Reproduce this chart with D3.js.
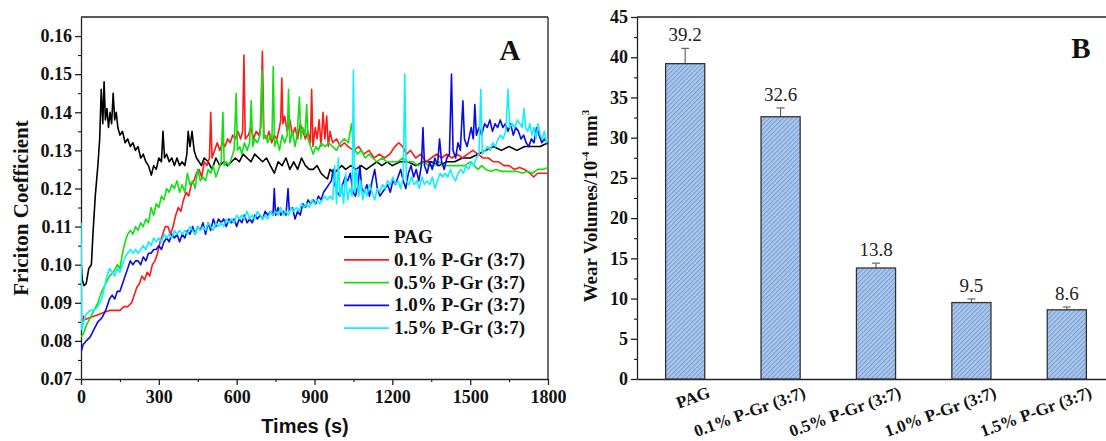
<!DOCTYPE html>
<html><head><meta charset="utf-8">
<script src="https://cdn.jsdelivr.net/npm/d3@7"></script>
<style>body{margin:0;background:#fff}svg{display:block}</style>
</head><body><svg id="c" width="1106" height="441"></svg>
<script>
// ---------- Data: panel A (time s, friction coefficient) ----------
const seriesNames = ["PAG","0.1% P-Gr (3:7)","0.5% P-Gr (3:7)","1.0% P-Gr (3:7)","1.5% P-Gr (3:7)"];
const seriesColors = ["#000000","#ff1a1a","#12e012","#0a0ae6","#11eeff"];
const pagData = [[0,0.101],[5,0.096],[12,0.0945],[20,0.095],[30,0.099],[40,0.100],[46,0.108],[55,0.118],[65,0.126],[72,0.133],[78,0.146],[84,0.137],[89,0.148],[94,0.138],[100,0.141],[106,0.136],[112,0.140],[118,0.137],[124,0.145],[130,0.138],[136,0.140],[142,0.136],[150,0.134],[160,0.135],[170,0.132],[180,0.133],[190,0.131],[200,0.132],[210,0.130],[220,0.131],[230,0.128],[240,0.129],[250,0.127],[260,0.126],[271,0.1235],[280,0.126],[290,0.125],[300,0.128],[310,0.127],[316,0.135],[322,0.128],[330,0.129],[340,0.127],[350,0.128],[360,0.126],[370,0.128],[380,0.126],[390,0.127],[400,0.126],[408,0.129],[413,0.135],[420,0.131],[428,0.135],[436,0.130],[445,0.128],[455,0.127],[464,0.126],[475,0.128],[490,0.127],[505,0.125],[520,0.128],[535,0.126],[550,0.127],[565,0.126],[580,0.127],[595,0.128],[610,0.127],[625,0.129],[640,0.128],[655,0.127],[670,0.129],[685,0.128],[700,0.127],[715,0.128],[730,0.126],[745,0.124],[760,0.127],[775,0.126],[790,0.128],[805,0.125],[820,0.127],[835,0.125],[850,0.128],[865,0.126],[880,0.125],[895,0.125],[910,0.126],[925,0.124],[940,0.123],[950,0.1225],[960,0.125],[975,0.124],[990,0.125],[1005,0.126],[1020,0.125],[1040,0.126],[1060,0.125],[1080,0.126],[1100,0.125],[1120,0.126],[1140,0.127],[1160,0.126],[1180,0.127],[1200,0.126],[1230,0.127],[1260,0.127],[1290,0.126],[1320,0.127],[1350,0.127],[1380,0.126],[1410,0.127],[1440,0.127],[1470,0.128],[1500,0.128],[1530,0.129],[1560,0.130],[1590,0.131],[1620,0.130],[1650,0.131],[1680,0.130],[1710,0.131],[1740,0.131],[1770,0.131],[1800,0.132]];
const pg01Data = [[0,0.085],[8,0.0855],[10,0.0865],[12,0.0855],[30,0.086],[50,0.0865],[70,0.087],[90,0.0875],[110,0.088],[130,0.088],[150,0.088],[165,0.089],[180,0.089],[195,0.090],[205,0.092],[215,0.094],[225,0.095],[235,0.097],[245,0.096],[255,0.098],[265,0.097],[275,0.100],[285,0.101],[295,0.103],[305,0.106],[315,0.108],[325,0.110],[335,0.110],[345,0.108],[355,0.110],[365,0.113],[375,0.115],[385,0.114],[395,0.117],[405,0.119],[415,0.118],[425,0.121],[435,0.122],[445,0.124],[455,0.125],[465,0.123],[475,0.127],[485,0.126],[495,0.128],[500,0.140],[505,0.128],[515,0.130],[525,0.132],[535,0.130],[545,0.132],[555,0.131],[565,0.133],[575,0.132],[585,0.134],[595,0.133],[605,0.135],[615,0.133],[623,0.135],[628,0.155],[633,0.133],[645,0.134],[655,0.136],[665,0.133],[675,0.135],[685,0.134],[693,0.136],[699,0.156],[705,0.134],[715,0.133],[725,0.135],[735,0.132],[745,0.134],[755,0.133],[765,0.136],[770,0.138],[774,0.149],[778,0.137],[785,0.139],[795,0.135],[805,0.138],[815,0.134],[825,0.136],[835,0.133],[845,0.137],[855,0.135],[865,0.133],[875,0.135],[884,0.132],[889,0.146],[894,0.131],[903,0.136],[910,0.133],[918,0.138],[925,0.131],[933,0.140],[940,0.133],[947,0.139],[953,0.131],[960,0.135],[970,0.132],[985,0.133],[1000,0.131],[1015,0.132],[1030,0.131],[1050,0.130],[1070,0.131],[1090,0.129],[1110,0.130],[1130,0.128],[1150,0.129],[1170,0.128],[1190,0.129],[1210,0.131],[1225,0.132],[1240,0.131],[1255,0.129],[1270,0.130],[1290,0.128],[1310,0.129],[1330,0.127],[1350,0.128],[1370,0.129],[1390,0.128],[1410,0.129],[1430,0.128],[1450,0.129],[1470,0.128],[1490,0.129],[1510,0.130],[1530,0.129],[1550,0.128],[1570,0.128],[1590,0.127],[1610,0.127],[1630,0.126],[1650,0.126],[1670,0.125],[1690,0.1255],[1710,0.125],[1730,0.124],[1745,0.123],[1760,0.124],[1780,0.124],[1800,0.124]];
const pg05Data = [[0,0.081],[10,0.082],[20,0.084],[35,0.086],[50,0.088],[65,0.090],[80,0.093],[95,0.095],[110,0.097],[125,0.098],[140,0.100],[150,0.099],[160,0.103],[170,0.106],[180,0.108],[190,0.109],[200,0.108],[210,0.110],[220,0.109],[230,0.111],[240,0.110],[250,0.112],[260,0.111],[270,0.115],[280,0.113],[290,0.116],[300,0.115],[310,0.118],[320,0.117],[330,0.120],[340,0.119],[350,0.121],[360,0.120],[370,0.122],[380,0.119],[390,0.121],[400,0.119],[410,0.124],[420,0.121],[430,0.122],[440,0.120],[450,0.125],[460,0.122],[470,0.123],[480,0.122],[490,0.125],[500,0.124],[510,0.126],[520,0.123],[530,0.125],[540,0.127],[547,0.140],[552,0.126],[560,0.127],[570,0.126],[580,0.128],[590,0.130],[598,0.145],[603,0.130],[612,0.131],[620,0.129],[630,0.132],[640,0.130],[650,0.132],[656,0.143],[662,0.131],[670,0.133],[680,0.132],[690,0.134],[698,0.151],[704,0.133],[712,0.134],[720,0.132],[730,0.134],[736,0.133],[741,0.152],[746,0.131],[755,0.133],[765,0.130],[775,0.134],[785,0.132],[795,0.134],[800,0.146],[805,0.132],[815,0.135],[825,0.131],[833,0.134],[842,0.144],[847,0.133],[855,0.136],[863,0.134],[870,0.142],[875,0.133],[885,0.131],[895,0.129],[905,0.131],[915,0.130],[925,0.132],[940,0.131],[955,0.132],[970,0.131],[985,0.130],[1000,0.132],[1015,0.133],[1030,0.132],[1043,0.137],[1050,0.131],[1065,0.129],[1080,0.130],[1095,0.128],[1110,0.129],[1125,0.128],[1140,0.127],[1160,0.128],[1180,0.127],[1200,0.127],[1220,0.127],[1240,0.128],[1260,0.127],[1280,0.127],[1300,0.126],[1320,0.127],[1340,0.126],[1360,0.126],[1380,0.127],[1400,0.126],[1420,0.126],[1440,0.126],[1460,0.126],[1480,0.126],[1500,0.127],[1515,0.126],[1530,0.125],[1545,0.126],[1560,0.125],[1580,0.1245],[1600,0.125],[1620,0.1245],[1640,0.1245],[1660,0.1245],[1680,0.1245],[1700,0.124],[1720,0.1245],[1740,0.124],[1760,0.125],[1780,0.125],[1800,0.1255]];
const pg10Data = [[0,0.077],[8,0.079],[20,0.080],[35,0.081],[50,0.083],[65,0.085],[80,0.086],[95,0.088],[110,0.091],[120,0.092],[130,0.091],[140,0.093],[150,0.093],[160,0.095],[170,0.097],[180,0.099],[190,0.101],[200,0.100],[210,0.101],[220,0.101],[230,0.100],[240,0.102],[250,0.101],[260,0.103],[270,0.103],[280,0.104],[290,0.104],[300,0.105],[310,0.104],[320,0.106],[330,0.107],[340,0.106],[350,0.108],[360,0.107],[370,0.108],[380,0.106],[390,0.108],[400,0.107],[410,0.109],[420,0.108],[430,0.110],[440,0.108],[450,0.110],[460,0.109],[470,0.111],[480,0.108],[490,0.111],[500,0.109],[510,0.112],[520,0.110],[530,0.112],[540,0.111],[550,0.112],[560,0.110],[570,0.112],[580,0.111],[590,0.112],[600,0.110],[610,0.112],[620,0.111],[630,0.113],[640,0.111],[650,0.112],[660,0.111],[670,0.113],[680,0.112],[690,0.113],[700,0.112],[710,0.114],[720,0.113],[730,0.114],[740,0.113],[745,0.120],[750,0.113],[760,0.115],[770,0.113],[780,0.114],[790,0.113],[798,0.120],[803,0.114],[815,0.115],[825,0.112],[835,0.114],[845,0.113],[855,0.116],[865,0.115],[875,0.117],[885,0.116],[895,0.117],[905,0.116],[915,0.118],[925,0.117],[935,0.119],[945,0.120],[955,0.121],[965,0.122],[972,0.125],[978,0.121],[988,0.119],[998,0.118],[1008,0.121],[1018,0.123],[1028,0.122],[1038,0.124],[1048,0.119],[1058,0.118],[1068,0.121],[1075,0.126],[1082,0.120],[1092,0.119],[1102,0.121],[1112,0.118],[1122,0.122],[1132,0.125],[1142,0.120],[1152,0.118],[1162,0.119],[1172,0.120],[1182,0.121],[1192,0.119],[1202,0.122],[1212,0.121],[1222,0.123],[1232,0.125],[1242,0.122],[1252,0.120],[1262,0.124],[1272,0.126],[1282,0.123],[1292,0.125],[1302,0.122],[1312,0.126],[1318,0.136],[1324,0.126],[1334,0.124],[1344,0.127],[1354,0.125],[1364,0.128],[1374,0.126],[1382,0.133],[1390,0.127],[1400,0.125],[1410,0.128],[1420,0.129],[1428,0.150],[1434,0.130],[1444,0.128],[1453,0.132],[1462,0.130],[1472,0.143],[1478,0.133],[1488,0.131],[1498,0.134],[1504,0.136],[1512,0.133],[1518,0.142],[1524,0.134],[1534,0.136],[1544,0.134],[1556,0.137],[1566,0.136],[1576,0.138],[1586,0.135],[1596,0.137],[1606,0.136],[1616,0.138],[1626,0.136],[1636,0.137],[1646,0.135],[1656,0.137],[1666,0.134],[1676,0.136],[1686,0.135],[1696,0.133],[1706,0.134],[1716,0.132],[1726,0.131],[1736,0.133],[1746,0.132],[1756,0.136],[1766,0.134],[1776,0.132],[1786,0.133],[1800,0.132]];
const pg15Data = [[0,0.111],[3,0.083],[10,0.085],[20,0.087],[35,0.088],[50,0.088],[65,0.089],[80,0.091],[90,0.094],[100,0.097],[110,0.099],[120,0.098],[130,0.097],[140,0.099],[150,0.098],[160,0.100],[170,0.102],[180,0.103],[190,0.104],[200,0.103],[210,0.104],[220,0.103],[230,0.104],[240,0.105],[250,0.104],[260,0.106],[270,0.105],[280,0.107],[290,0.106],[300,0.107],[310,0.106],[320,0.108],[330,0.107],[340,0.108],[350,0.107],[360,0.109],[370,0.108],[380,0.109],[390,0.108],[400,0.109],[410,0.108],[420,0.110],[430,0.109],[440,0.108],[450,0.110],[460,0.109],[470,0.110],[480,0.109],[490,0.111],[500,0.110],[510,0.109],[520,0.111],[530,0.110],[540,0.111],[550,0.110],[560,0.112],[570,0.111],[580,0.112],[590,0.111],[600,0.113],[610,0.112],[620,0.113],[630,0.112],[640,0.114],[650,0.112],[660,0.113],[670,0.112],[680,0.114],[690,0.113],[700,0.112],[710,0.113],[720,0.112],[730,0.114],[740,0.113],[750,0.114],[760,0.113],[770,0.115],[780,0.113],[790,0.114],[800,0.113],[810,0.115],[820,0.114],[830,0.115],[840,0.114],[850,0.116],[860,0.115],[870,0.116],[880,0.115],[890,0.117],[900,0.116],[910,0.117],[920,0.116],[930,0.117],[940,0.118],[950,0.117],[960,0.118],[970,0.117],[978,0.126],[985,0.116],[992,0.128],[998,0.118],[1005,0.121],[1012,0.116],[1020,0.124],[1028,0.117],[1036,0.120],[1045,0.118],[1050,0.151],[1055,0.119],[1062,0.125],[1070,0.118],[1078,0.122],[1086,0.117],[1094,0.120],[1102,0.118],[1112,0.121],[1122,0.119],[1132,0.117],[1142,0.120],[1152,0.119],[1162,0.121],[1172,0.120],[1182,0.122],[1192,0.121],[1202,0.123],[1212,0.121],[1222,0.122],[1232,0.120],[1242,0.123],[1248,0.150],[1254,0.122],[1264,0.121],[1274,0.123],[1284,0.121],[1294,0.122],[1304,0.120],[1314,0.123],[1324,0.121],[1334,0.122],[1344,0.121],[1354,0.123],[1364,0.120],[1374,0.122],[1384,0.124],[1394,0.123],[1404,0.124],[1414,0.123],[1424,0.125],[1434,0.123],[1444,0.122],[1454,0.124],[1464,0.125],[1474,0.124],[1484,0.126],[1494,0.125],[1504,0.127],[1514,0.126],[1524,0.128],[1534,0.129],[1541,0.146],[1547,0.129],[1557,0.130],[1567,0.131],[1577,0.130],[1587,0.132],[1597,0.131],[1607,0.133],[1617,0.134],[1627,0.133],[1637,0.135],[1646,0.146],[1652,0.136],[1662,0.137],[1672,0.136],[1682,0.138],[1692,0.137],[1700,0.136],[1708,0.141],[1714,0.136],[1722,0.135],[1730,0.137],[1738,0.134],[1746,0.136],[1754,0.133],[1762,0.137],[1770,0.134],[1778,0.133],[1786,0.135],[1794,0.132],[1800,0.133]];
const timeTicks = [0,300,600,900,1200,1500,1800];
const frictionTicks = [0.07,0.08,0.09,0.10,0.11,0.12,0.13,0.14,0.15,0.16];

// ---------- Data: panel B (wear volumes) ----------
const barCategories = ["PAG","0.1% P-Gr (3:7)","0.5% P-Gr (3:7)","1.0% P-Gr (3:7)","1.5% P-Gr (3:7)"];
const wearValues = [39.2,32.6,13.8,9.5,8.6];
const wearErrors = [1.9,1.1,0.6,0.45,0.35];
const wearTicks = [0,5,10,15,20,25,30,35,40,45];

const svg = d3.select("#c");
const SERIF = "'Liberation Serif','Times New Roman',serif";
const SANS = "'Liberation Sans',Arial,sans-serif";

// ===== Panel A =====
const A = {l:81, r:548, t:17, b:379};
const xA = d3.scaleLinear().domain([0,1800]).range([A.l, A.r]);
const yA = d3.scaleLinear().domain([0.07,0.165]).range([A.b, A.t]);

const gA = svg.append("g");
const clip = svg.append("defs").append("clipPath").attr("id","clipA");
clip.append("rect").attr("x",A.l).attr("y",A.t).attr("width",A.r-A.l).attr("height",A.b-A.t);

// minor ticks
gA.append("g").attr("transform",`translate(0,${A.b})`)
  .call(d3.axisBottom(xA).tickValues(d3.range(150,1800,300)).tickSize(3).tickFormat("").tickSizeOuter(0))
  .call(g=>g.select(".domain").remove());
gA.append("g").attr("transform",`translate(${A.l},0)`)
  .call(d3.axisLeft(yA).tickValues(d3.range(0.075,0.165,0.01)).tickSize(3).tickFormat("").tickSizeOuter(0))
  .call(g=>g.select(".domain").remove());

const axB = gA.append("g").attr("transform",`translate(0,${A.b})`)
  .call(d3.axisBottom(xA).tickValues(timeTicks).tickFormat(d3.format("d")).tickSize(6).tickSizeOuter(0).tickPadding(5));
axB.selectAll("text").attr("font-family",SERIF).attr("font-weight","bold").attr("font-size",18).attr("fill","#111");
const axL = gA.append("g").attr("transform",`translate(${A.l},0)`)
  .call(d3.axisLeft(yA).tickValues(frictionTicks).tickFormat(d3.format(".2f")).tickSize(6).tickSizeOuter(0).tickPadding(3));
axL.selectAll("text").attr("font-family",SERIF).attr("font-weight","bold").attr("font-size",18).attr("fill","#111");
[axB,axL].forEach(a=>{a.selectAll("path,line").attr("stroke","#222").attr("stroke-width",1.3);});
// frame
gA.append("line").attr("x1",A.l).attr("x2",A.r).attr("y1",A.t).attr("y2",A.t).attr("stroke","#222").attr("stroke-width",1.3);
gA.append("line").attr("x1",A.r).attr("x2",A.r).attr("y1",A.t).attr("y2",A.b).attr("stroke","#222").attr("stroke-width",1.3);

const lineGen = d3.line().x(d=>xA(d[0])).y(d=>yA(d[1]));
const allSeries = [pagData,pg01Data,pg05Data,pg10Data,pg15Data];
const linesG = gA.append("g").attr("clip-path","url(#clipA)");
allSeries.forEach((s,i)=>{
  linesG.append("path").datum(s).attr("d",lineGen).attr("fill","none")
    .attr("stroke",seriesColors[i]).attr("stroke-width",1.6).attr("stroke-linejoin","round");
});

// legend
const leg = gA.append("g");
seriesNames.forEach((n,i)=>{
  const y = 237 + i*22.8;
  leg.append("line").attr("x1",344).attr("x2",389).attr("y1",y).attr("y2",y)
    .attr("stroke",seriesColors[i]).attr("stroke-width",1.8);
  leg.append("text").attr("x",394).attr("y",y+6).text(n)
    .attr("font-family",SERIF).attr("font-weight","bold").attr("font-size",19).attr("fill","#111");
});

gA.append("text").attr("x",510).attr("y",60).text("A").attr("text-anchor","middle")
  .attr("font-family",SERIF).attr("font-weight","bold").attr("font-size",29).attr("fill","#111");
gA.append("text").attr("transform",`translate(28,${(A.t+A.b)/2+10}) rotate(-90)`).attr("text-anchor","middle")
  .text("Friciton Coefficient").attr("font-family",SERIF).attr("font-weight","bold").attr("font-size",21).attr("fill","#111");
gA.append("text").attr("x",305).attr("y",433).attr("text-anchor","middle").text("Times (s)")
  .attr("font-family",SANS).attr("font-weight","bold").attr("font-size",20).attr("fill","#111");

// ===== Panel B =====
const B = {l:637, r:1115, t:17, b:379};
const xB = d3.scaleBand().domain(barCategories).range([B.l,B.r]).paddingInner(0.59).paddingOuter(0.3);
const yB = d3.scaleLinear().domain([0,45]).range([B.b,B.t]);
const gB = svg.append("g");

const defs = svg.select("defs");
const pat = defs.append("pattern").attr("id","hatch").attr("patternUnits","userSpaceOnUse")
  .attr("width",3.2).attr("height",3.2).attr("patternTransform","rotate(45)");
pat.append("rect").attr("width",3.2).attr("height",3.2).attr("fill","#a9c7ec");
pat.append("line").attr("x1",0.5).attr("x2",0.5).attr("y1",0).attr("y2",3.2).attr("stroke","#7597cf").attr("stroke-width",0.9);

gB.append("g").attr("transform",`translate(${B.l},0)`)
  .call(d3.axisLeft(yB).tickValues(d3.range(2.5,45,5)).tickSize(3).tickFormat("").tickSizeOuter(0))
  .call(g=>g.select(".domain").remove());
const bL = gB.append("g").attr("transform",`translate(${B.l},0)`)
  .call(d3.axisLeft(yB).tickValues(wearTicks).tickSize(6).tickSizeOuter(0).tickPadding(3));
bL.selectAll("text").attr("font-family",SERIF).attr("font-weight","bold").attr("font-size",18).attr("fill","#111");
const bB = gB.append("g").attr("transform",`translate(0,${B.b})`)
  .call(d3.axisBottom(xB).tickSize(0).tickSizeOuter(0).tickPadding(0));
bB.selectAll("text").attr("font-family",SERIF).attr("font-weight","bold").attr("font-size",17).attr("fill","#111")
  .attr("text-anchor","end").attr("dy",0).attr("transform","translate(26,18) rotate(-20)");
[bL,bB].forEach(a=>{a.selectAll("path,line").attr("stroke","#222").attr("stroke-width",1.3);});
gB.append("line").attr("x1",B.l).attr("x2",B.r).attr("y1",B.t).attr("y2",B.t).attr("stroke","#222").attr("stroke-width",1.3);

// error bars (upper)
barCategories.forEach((c,i)=>{
  const cx = xB(c)+xB.bandwidth()/2;
  const top = yB(wearValues[i]+wearErrors[i]);
  gB.append("line").attr("x1",cx).attr("x2",cx).attr("y1",yB(wearValues[i])).attr("y2",top).attr("stroke","#666").attr("stroke-width",1.2);
  gB.append("line").attr("x1",cx-4).attr("x2",cx+4).attr("y1",top).attr("y2",top).attr("stroke","#666").attr("stroke-width",1.2);
  gB.append("text").attr("x",cx).attr("y",top-7).attr("text-anchor","middle").text(wearValues[i].toFixed(1))
    .attr("font-family",SERIF).attr("font-size",19).attr("fill","#222");
});
gB.selectAll("rect.bar").data(wearValues).join("rect").attr("class","bar")
  .attr("x",(d,i)=>xB(barCategories[i])).attr("width",xB.bandwidth())
  .attr("y",d=>yB(d)).attr("height",d=>yB(0)-yB(d))
  .attr("fill","url(#hatch)").attr("stroke","#333").attr("stroke-width",1.3);

gB.append("text").attr("x",1081).attr("y",58).text("B").attr("text-anchor","middle")
  .attr("font-family",SERIF).attr("font-weight","bold").attr("font-size",29).attr("fill","#111");
const yt = gB.append("text").attr("transform",`translate(597,${(B.t+B.b)/2+8}) rotate(-90)`).attr("text-anchor","middle")
  .attr("font-family",SERIF).attr("font-weight","bold").attr("font-size",19).attr("fill","#111");
yt.append("tspan").text("Wear Volumes/10");
yt.append("tspan").text("-4").attr("font-size",11).attr("dy",-8);
yt.append("tspan").text(" mm").attr("font-size",19).attr("dy",8);
yt.append("tspan").text("3").attr("font-size",11).attr("dy",-8);
</script></body></html>
